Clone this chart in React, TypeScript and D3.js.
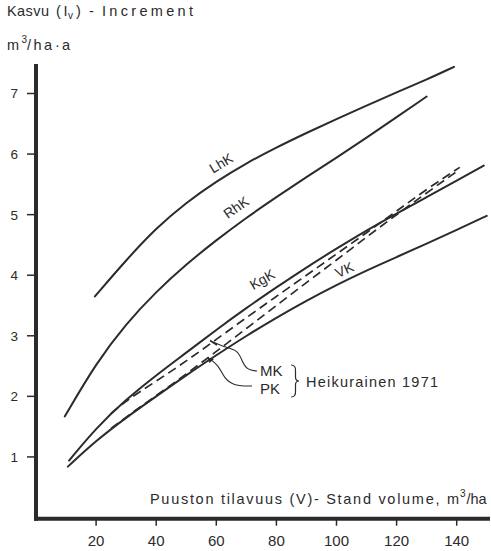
import React from "react";
import * as d3 from "d3";

// Stand volume (m³/ha) and annual increment (m³/ha·a) per site type
const lhkVolume = [19.6, 30, 40, 50, 60, 70, 80, 90, 100, 110, 120, 130, 139.1];
const lhkIncrement = [3.65, 4.25, 4.78, 5.2, 5.55, 5.85, 6.11, 6.35, 6.58, 6.8, 7.02, 7.23, 7.44];

const rhkVolume = [9.6, 20, 30, 40, 50, 60, 70, 80, 90, 100, 110, 120, 130];
const rhkIncrement = [1.67, 2.55, 3.2, 3.73, 4.18, 4.58, 4.95, 5.29, 5.62, 5.94, 6.27, 6.61, 6.95];

const kgkVolume = [11, 20, 30, 40, 50, 60, 70, 80, 90, 100, 110, 120, 130, 140, 149];
const kgkIncrement = [0.94, 1.48, 1.95, 2.35, 2.72, 3.1, 3.46, 3.8, 4.13, 4.44, 4.74, 5.02, 5.29, 5.56, 5.81];

const vkVolume = [10.6, 20, 30, 40, 50, 60, 70, 80, 90, 100, 110, 120, 130, 140, 150];
const vkIncrement = [0.84, 1.27, 1.65, 2.0, 2.35, 2.68, 3.0, 3.3, 3.58, 3.84, 4.08, 4.3, 4.52, 4.75, 4.98];

// Heikurainen 1971 (dashed)
const mkVolume = [25, 30, 40, 50, 60, 70, 80, 90, 100, 110, 120, 130, 141];
const mkIncrement = [1.72, 1.93, 2.25, 2.58, 2.94, 3.3, 3.65, 4.0, 4.35, 4.7, 5.06, 5.42, 5.78];

const pkVolume = [25, 30, 40, 50, 60, 70, 80, 90, 100, 110, 120, 130, 140];
const pkIncrement = [1.47, 1.66, 2.01, 2.37, 2.74, 3.12, 3.5, 3.88, 4.25, 4.63, 5.0, 5.36, 5.71];

const xTicks = [20, 40, 60, 80, 100, 120, 140];
const yTicks = [1, 2, 3, 4, 5, 6, 7];

const solidSeries = [
  { name: "LhK", volume: lhkVolume, increment: lhkIncrement },
  { name: "RhK", volume: rhkVolume, increment: rhkIncrement },
  { name: "KgK", volume: kgkVolume, increment: kgkIncrement },
  { name: "VK", volume: vkVolume, increment: vkIncrement },
];
const dashedSeries = [
  { name: "MK", volume: mkVolume, increment: mkIncrement },
  { name: "PK", volume: pkVolume, increment: pkIncrement },
];

const W = 491;
const H = 551;
const INK = "#2b2b2b";
const FONT = "'Liberation Sans', Arial, Helvetica, sans-serif";

export default function App() {
  const x = d3.scaleLinear().domain([0, 150]).range([36, 36 + 150 * 3.005]);
  const y = d3.scaleLinear().domain([0, 7]).range([517.5, 93.5]);

  const line = (vol: number[], inc: number[]) =>
    d3
      .line<number>()
      .x((_, i) => x(vol[i]))
      .y((d) => y(d))
      .curve(d3.curveBasis)(inc) || "";

  const leader = d3
    .line<[number, number]>()
    .x((d) => d[0])
    .y((d) => d[1])
    .curve(d3.curveBasis);

  // curve label anchors in data units, with text rotation
  const curveLabels = [
    { text: "LhK", v: 61.6, i: 5.85, rot: -31 },
    { text: "RhK", v: 66.6, i: 5.12, rot: -35 },
    { text: "KgK", v: 75.3, i: 3.93, rot: -30 },
    { text: "VK", v: 102.6, i: 4.09, rot: -25 },
  ];

  const axisY = y(0) + 1.2;

  return (
    <svg
      width={W}
      height={H}
      style={{ position: "absolute", left: 0, top: 0, background: "#fff" }}
      fontFamily={FONT}
    >
      <rect width={W} height={H} fill="#fff" />

      {/* Y axis title */}
      <text x={7} y={16} fontSize={14.5} fill={INK}>
        <tspan x={7} textLength={42} lengthAdjust="spacing">Kasvu</tspan>
        <tspan x={56}>(</tspan>
        <tspan x={63.5}>I</tspan>
        <tspan x={68} dy={3} fontSize={10}>v</tspan>
        <tspan x={76} dy={-3}>)</tspan>
        <tspan x={89}>-</tspan>
        <tspan x={102} textLength={91} lengthAdjust="spacing">Increment</tspan>
      </text>
      <text x={7} y={50} fontSize={14.5} fill={INK}>
        <tspan x={7}>m</tspan>
        <tspan x={21.5} dy={-7} fontSize={10}>3</tspan>
        <tspan x={27} dy={7} textLength={25} lengthAdjust="spacing">/ha</tspan>
        <tspan x={55}>·</tspan>
        <tspan x={62}>a</tspan>
      </text>

      {/* axes */}
      <line x1={36} x2={36} y1={64} y2={axisY + 2} stroke={INK} strokeWidth={4} />
      <line x1={34} x2={490} y1={axisY} y2={axisY} stroke={INK} strokeWidth={4} />

      {yTicks.map((t) => (
        <g key={`y${t}`}>
          <line x1={27} x2={36} y1={y(t)} y2={y(t)} stroke={INK} strokeWidth={1.5} />
          <text x={18} y={y(t)} dy="0.36em" textAnchor="end" fontSize={13.5} fill={INK}>
            {t}
          </text>
        </g>
      ))}
      {xTicks.map((t) => (
        <g key={`x${t}`}>
          <line x1={x(t)} x2={x(t)} y1={axisY} y2={axisY + 7} stroke={INK} strokeWidth={1.5} />
          <text x={x(t)} y={545.5} textAnchor="middle" fontSize={15} fill={INK}>
            {t}
          </text>
        </g>
      ))}

      {/* X axis title */}
      <text y={504} fontSize={14.5} fill={INK}>
        <tspan x={150} textLength={309} lengthAdjust="spacing">
          Puuston tilavuus (V)- Stand volume, m
        </tspan>
        <tspan x={460} dy={-7} fontSize={10}>3</tspan>
        <tspan x={466.5} dy={7}>/ha</tspan>
      </text>

      {/* curves */}
      {dashedSeries.map((s) => (
        <path
          key={s.name}
          d={line(s.volume, s.increment)}
          fill="none"
          stroke={INK}
          strokeWidth={1.7}
          strokeDasharray="9 5"
        />
      ))}
      {solidSeries.map((s) => (
        <path
          key={s.name}
          d={line(s.volume, s.increment)}
          fill="none"
          stroke={INK}
          strokeWidth={2}
          strokeLinecap="round"
        />
      ))}

      {curveLabels.map((l) => (
        <text
          key={l.text}
          transform={`translate(${x(l.v)},${y(l.i)}) rotate(${l.rot})`}
          textAnchor="middle"
          dy="0.35em"
          fontSize={14}
          fill={INK}
        >
          {l.text}
        </text>
      ))}

      {/* MK / PK leaders */}
      <path
        d={leader([[213, 342], [224, 347], [238, 350], [242, 361], [247, 370], [257, 371]]) || ""}
        fill="none"
        stroke={INK}
        strokeWidth={1.1}
      />
      <line x1={210} x2={217} y1={340.5} y2={345} stroke={INK} strokeWidth={1.6} />
      <path
        d={leader([[210, 359], [219, 366], [224, 378], [234, 386], [252, 386]]) || ""}
        fill="none"
        stroke={INK}
        strokeWidth={1.1}
      />
      <path d="M207,357.5 L214,359 L209.5,363 Z" fill={INK} />

      <text x={260} y={375.5} fontSize={15} fill={INK}>MK</text>
      <text x={260} y={393.5} fontSize={15} fill={INK}>PK</text>
      <path
        d="M291,365 Q296,365 295.5,371 L295.5,377 Q295.5,381 299,381 Q295.5,381 295.5,385 L295.5,391 Q296,397 291,397"
        fill="none"
        stroke={INK}
        strokeWidth={1.2}
      />
      <text x={306} y={387} fontSize={14.5} fill={INK} textLength={132} lengthAdjust="spacing">
        Heikurainen 1971
      </text>
    </svg>
  );
}
